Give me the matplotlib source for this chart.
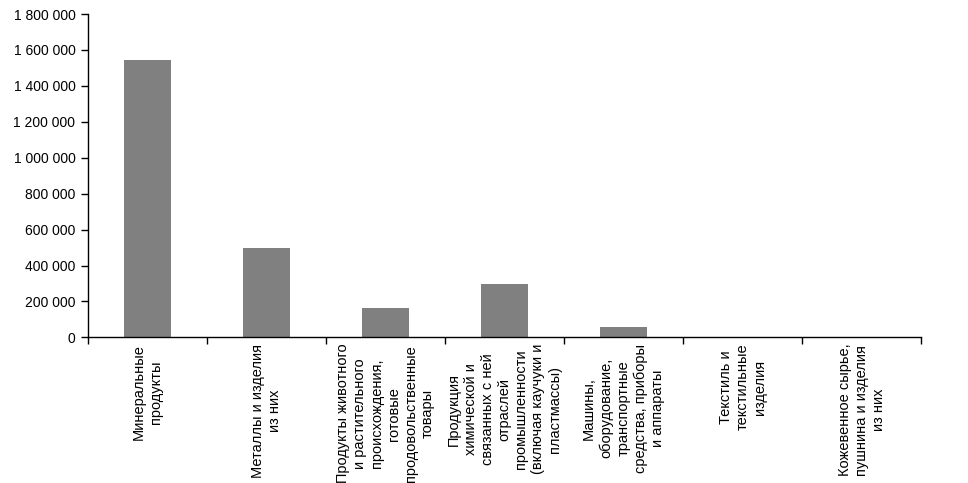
import matplotlib
matplotlib.use('Agg')
import matplotlib.pyplot as plt
from matplotlib.ticker import FuncFormatter

plt.rcParams['font.family'] = ['Liberation Sans', 'DejaVu Sans']

categories = [
    'Минеральные\nпродукты',
    'Металлы и изделия\nиз них',
    'Продукты животного\nи растительного\nпроисхождения,\nготовые\nпродовольственные\nтовары',
    'Продукция\nхимической и\nсвязанных с ней\nотраслей\nпромышленности\n(включая каучуки и\nпластмассы)',
    'Машины,\nоборудование,\nтранспортные\nсредства, приборы\nи аппараты',
    'Текстиль и\nтекстильные\nизделия',
    'Кожевенное сырье,\nпушнина и изделия\nиз них',
]
values = [1544000, 498000, 166000, 298000, 57000, 1200, 700]

y_ticks = list(range(0, 1800001, 200000))


def fmt(v, pos):
    return '{:,}'.format(int(v)).replace(',', ' ')


def main():
    fig = plt.figure(figsize=(9.68, 4.83), dpi=100)
    ax = fig.add_axes([0.0909, 0.3015, 0.8606, 0.6695])

    x = list(range(len(categories)))
    ax.bar(x, values, width=0.4, color='#808080', zorder=2)

    ax.set_xlim(-0.5, len(categories) - 0.5)
    ax.set_ylim(0, 1800000)
    ax.set_yticks(y_ticks)
    ax.yaxis.set_major_formatter(FuncFormatter(fmt))

    # category boundaries get the tick marks, labels sit in the middle
    ax.set_xticks([i - 0.5 for i in range(len(categories) + 1)])
    ax.set_xticklabels([])
    ax.tick_params(axis='x', direction='out', length=5, width=1)
    ax.tick_params(axis='y', direction='out', length=5, width=1, labelsize=10, pad=4)

    for i, lab in enumerate(categories):
        ax.text(i, -0.02, lab, transform=ax.get_xaxis_transform(),
                rotation=90, ha='center', va='top', multialignment='center',
                fontsize=10.5, linespacing=1.27)

    for s in ['top', 'right']:
        ax.spines[s].set_visible(False)
    ax.spines['left'].set_linewidth(1)
    ax.spines['bottom'].set_linewidth(1)

    fig.savefig('out.png', dpi=100)


if __name__ == '__main__':
    main()
